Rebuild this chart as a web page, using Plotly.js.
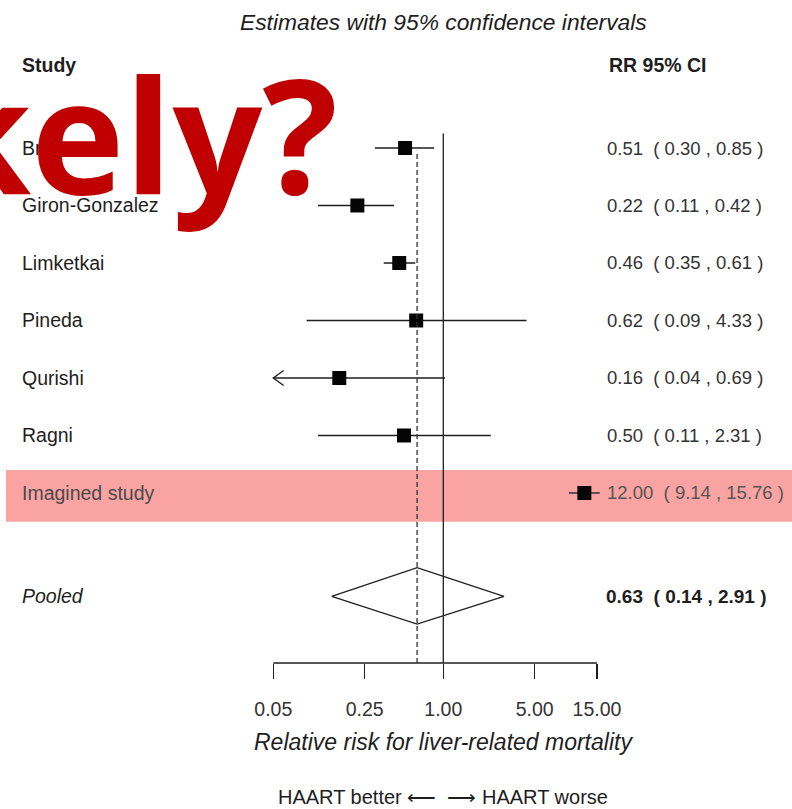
<!DOCTYPE html>
<html><head><meta charset="utf-8">
<script src="https://cdn.plot.ly/plotly-3.0.1.min.js"></script>
<style>html,body{margin:0;padding:0;background:#fff;} #chart{width:792px;height:809px;}</style>
</head><body><div id="chart"></div>
<script>
// ---- data ----
const studies = ["Bruno", "Giron-Gonzalez", "Limketkai", "Pineda", "Qurishi", "Ragni", "Imagined study"];
const rr      = [0.51, 0.22, 0.46, 0.62, 0.16, 0.50, 12.00];
const ciLow   = [0.30, 0.11, 0.35, 0.09, 0.04, 0.11, 9.14];
const ciHigh  = [0.85, 0.42, 0.61, 4.33, 0.69, 2.31, 15.76];
// right end of each CI line as drawn in the picture
const lineHigh = [0.85, 0.42, 0.61, 4.33, 1.03, 2.31, 15.76];
const pooledRR = 0.63, pooledLow = 0.14, pooledHigh = 2.91;
const tickVals = [0.05, 0.25, 1, 5, 15];
const tickText = ["0.05", "0.25", "1.00", "5.00", "15.00"];
const highlighted = "Imagined study";

// ---- layout constants ----
const W = 792, H = 809, B = 146, PH = H - B;
const FONT = '"Liberation Sans", Arial, sans-serif';
const INK = '#1e1e1e';
const axisMin = tickVals[0], axisMax = tickVals[tickVals.length - 1];
const rowY = studies.map((s, i) => studies.length - i);   // 7 .. 1
const pooledY = -0.8;
const yRange = [-1.957, 9.574];
const xRange = [-3.392, 2.668];
const px = v => v / W;            // paper x from pixel
const py = v => 1 - v / PH;       // paper y from pixel
const sp = '\u00a0';
const f2 = v => v.toFixed(2);
const ciStr = (e, l, h) => f2(e) + sp + sp + '(' + sp + f2(l) + sp + ',' + sp + f2(h) + sp + ')';

// ---- traces ----
const lx = [], ly = [];
studies.forEach((s, i) => {
  lx.push(Math.max(ciLow[i], axisMin), lineHigh[i], null);
  ly.push(rowY[i], rowY[i], null);
});
const ax = [], ay = [];
studies.forEach((s, i) => {
  if (ciLow[i] < axisMin) {
    ax.push(axisMin * 1.2, axisMin, axisMin * 1.2, null);
    ay.push(rowY[i] + 0.13, rowY[i], rowY[i] - 0.13, null);
  }
});
const traces = [
  {x: lx, y: ly, mode: 'lines', line: {color: INK, width: 1.3}, hoverinfo: 'skip', cliponaxis: false},
  {x: ax, y: ay, mode: 'lines', line: {color: INK, width: 1.3}, hoverinfo: 'skip', cliponaxis: false},
  {x: rr, y: rowY, mode: 'markers', marker: {symbol: 'square', size: 14, color: '#050505'}, cliponaxis: false},
  {x: [pooledLow, pooledRR, pooledHigh, pooledRR, pooledLow],
   y: [pooledY, pooledY + 0.5, pooledY, pooledY - 0.48, pooledY],
   mode: 'lines', fill: 'toself', fillcolor: '#fff', line: {color: INK, width: 1.3}, cliponaxis: false}
];

// ---- shapes ----
const hi = studies.indexOf(highlighted);
const shapes = [
  {type: 'rect', layer: 'below', xref: 'paper', yref: 'y', x0: px(6), x1: 1, y0: rowY[hi] - 0.5, y1: rowY[hi] + 0.4,
   fillcolor: '#f9a3a3', line: {width: 0}},
  {type: 'line', xref: 'x', yref: 'paper', x0: axisMin, x1: axisMax, y0: 0, y1: 0, line: {color: INK, width: 1.4}},
  {type: 'line', xref: 'x', yref: 'y', x0: 1, x1: 1, y0: yRange[0], y1: rowY[0] + 0.25, line: {color: INK, width: 1.3}},
  {type: 'line', xref: 'x', yref: 'y', x0: pooledRR, x1: pooledRR, y0: yRange[0], y1: rowY[0] - 0.05,
   line: {color: '#333', width: 1.3, dash: '5px,3px'}}
];

// ---- annotations ----
const ann = [];
const LBL = 19.5;
const txt = (text, x, y, opts) => Object.assign({text: text, x: x, y: y, xref: 'paper', yref: 'paper',
  showarrow: false, xanchor: 'left', yanchor: 'middle', font: {family: FONT, size: LBL, color: INK}}, opts || {});
ann.push(txt('<i>Estimates with 95% confidence intervals</i>', px(443), py(22), {xanchor: 'center', font: {family: FONT, size: 22.8, color: INK}}));
ann.push(txt('<b>Study</b>', px(20), py(65)));
ann.push(txt('<b>RR 95% CI</b>', px(607), py(65)));
studies.forEach((s, i) => {
  const c = s === highlighted ? '#4a4a4a' : INK;
  ann.push(txt(s, px(20), rowY[i], {yref: 'y', font: {family: FONT, size: LBL, color: c}}));
  ann.push(txt(ciStr(rr[i], ciLow[i], ciHigh[i]), px(605), rowY[i], {yref: 'y', font: {family: FONT, size: 18.5, color: s === highlighted ? '#555' : '#333'}}));
});
ann.push(txt('<i>Pooled</i>', px(20), pooledY, {yref: 'y'}));
ann.push(txt('<b>' + ciStr(pooledRR, pooledLow, pooledHigh) + '</b>', px(604), pooledY, {yref: 'y', font: {family: FONT, size: 19, color: INK}}));
ann.push(txt('<i>Relative risk for liver-related mortality</i>', px(443), py(742), {xanchor: 'center', font: {family: FONT, size: 23, color: INK}}));
ann.push(txt('HAART better \u27f5' + sp + sp + '\u27f6 HAART worse', px(443), py(797), {xanchor: 'center', font: {family: FONT, size: 20, color: INK}}));
ann.push(txt('<b>kely?</b>', px(340), py(133), {xanchor: 'right', font: {family: '"Open Sans", "Noto Sans", sans-serif', size: 158, color: '#c00000'}}));

const layout = {
  width: W, height: H,
  margin: {l: 0, r: 0, t: 0, b: B, pad: 0},
  paper_bgcolor: '#fff', plot_bgcolor: 'rgba(0,0,0,0)',
  showlegend: false,
  xaxis: {type: 'log', range: xRange, showgrid: false, zeroline: false, showline: false,
    ticks: 'outside', ticklen: 15, tickwidth: 1.3, tickcolor: INK, ticklabelstandoff: 14,
    tickvals: tickVals, ticktext: tickText, tickfont: {family: FONT, size: 19.5, color: '#333'}, fixedrange: true},
  yaxis: {range: yRange, showgrid: false, zeroline: false, showline: false, showticklabels: false, ticks: '', fixedrange: true},
  shapes: shapes,
  annotations: ann
};
Plotly.newPlot('chart', traces, layout, {displayModeBar: false, staticPlot: true});
</script>
</body></html>
